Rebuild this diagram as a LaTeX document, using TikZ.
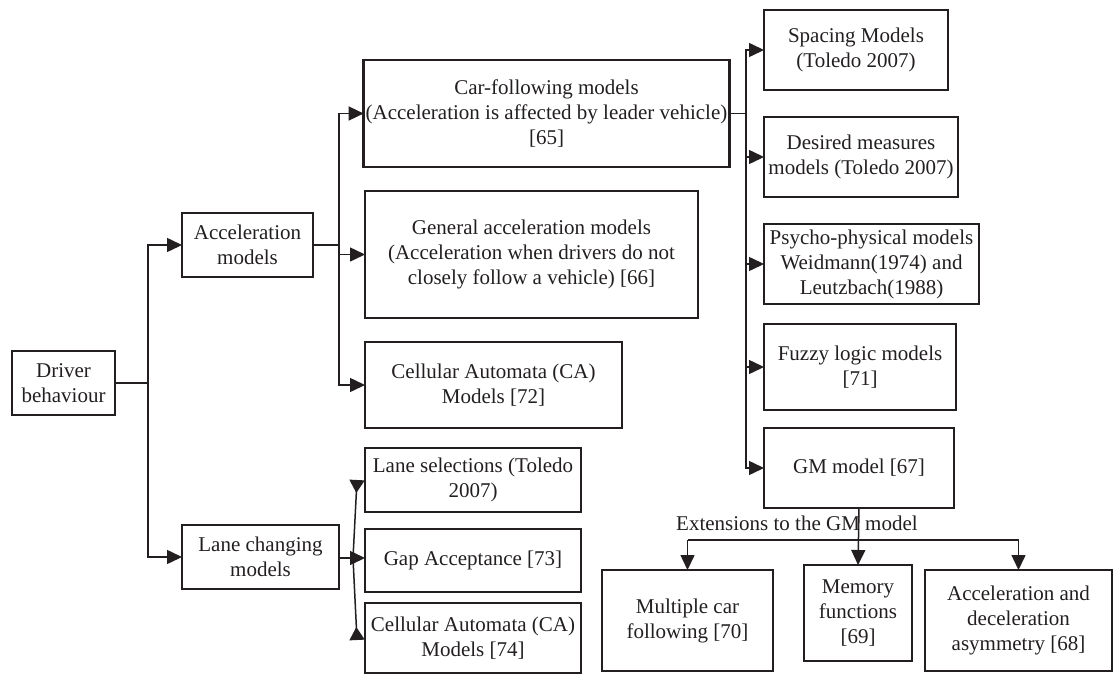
\documentclass[tikz,border=0pt]{standalone}
\usepackage{fontspec}
\setmainfont{Liberation Serif}
\usetikzlibrary{arrows.meta,calc}
\definecolor{ink}{HTML}{231F20}
\begin{document}
\begin{tikzpicture}[x=1pt,y=-1pt,
  box/.style={draw=ink, text=ink, line width=2.8pt, align=center, inner sep=2pt, outer sep=0pt,
    font=\fontsize{21}{25}\selectfont},
  conn/.style={draw=ink, line width=1.5pt},
  arr/.style={conn, -{Triangle[length=15pt,width=14pt]}},
  rarr/.style={conn, -{Triangle[reversed,length=13pt,width=15pt]}},
  lbl/.style={text=ink, inner sep=0pt, font=\fontsize{21}{25}\selectfont}]
\useasboundingbox (0,0) rectangle (1118,674);

% level 0/1
\node[box, minimum width=103pt, minimum height=64pt] (drv) at (63.5,383) {Driver\\behaviour};
\node[box, minimum width=131pt, minimum height=64pt] (acc) at (247.5,245) {Acceleration\\models};
\node[box, minimum width=157pt, minimum height=64pt] (lcm) at (260.5,557) {Lane changing\\models};

% acceleration branch
\node[box, minimum width=363pt, minimum height=107pt] (cf) at (546.5,113.5) {Car-following models\\(Acceleration is affected by leader vehicle)\\{[65]}};
\node[box, minimum width=333pt, minimum height=127pt] (ga) at (531.5,254.5) {General acceleration models\\(Acceleration when drivers do not\\closely follow a vehicle) [66]};
\node[box, minimum width=257pt, minimum height=86pt] (ca72) at (493.5,385) {Cellular Automata (CA)\\Models [72]};

% lane changing branch
\node[box, minimum width=216pt, minimum height=64pt] (ls) at (473,480) {Lane selections (Toledo\\2007)};
\node[box, minimum width=216pt, minimum height=63pt] (gap) at (473,560.5) {Gap Acceptance [73]};
\node[box, minimum width=216pt, minimum height=70pt] (ca74) at (473,638) {Cellular Automata (CA)\\Models [74]};

% car-following branch
\node[box, minimum width=184pt, minimum height=80pt] (sp) at (856,50) {Spacing Models\\(Toledo 2007)};
\node[box, minimum width=194pt, minimum height=80pt] (dm) at (861,157) {Desired measures\\models (Toledo 2007)};
\node[box, minimum width=215pt, minimum height=80pt] (pp) at (871.5,264) {Psycho-physical models\\Weidmann(1974) and\\Leutzbach(1988)};
\node[box, minimum width=192pt, minimum height=86pt] (fz) at (860,367) {Fuzzy logic models\\{[71]}};
\node[box, minimum width=190pt, minimum height=80pt] (gm) at (859,468) {GM model [67]};

% GM extensions
\node[box, minimum width=171pt, minimum height=101pt] (mc) at (687.5,620.5) {Multiple car\\following [70]};
\node[box, minimum width=108pt, minimum height=96pt] (mem) at (858,613) {Memory\\functions\\{[69]}};
\node[box, minimum width=187pt, minimum height=101pt] (aa) at (1018.5,620.5) {Acceleration and\\deceleration\\asymmetry [68]};
\node[lbl, anchor=base west] (ext) at (676,530) {Extensions to the GM model};

% connectors: driver behaviour
\coordinate (db) at (148,383);
\draw[conn] (drv.east) -- (db);
\draw[arr] (db) |- (acc.west);
\draw[arr] (db) |- (lcm.west);

% acceleration models
\coordinate (ab) at (339,245);
\draw[conn] (acc.east) -- (ab);
\draw[arr] (ab) |- (cf.west);
\draw[arr] (ab) |- (ga.west);
\draw[arr] (ab) |- (ca72.west);

% lane changing models
\coordinate (lb) at (353,558);
\draw[conn] (lcm.east |- lb) -- (lb);
\draw[arr] (lb) -- (lb -| gap.west);
\draw[rarr] (lb) -- ($(ls.west)+(-8,0)$);
\draw[rarr] (lb) -- ($(ca74.west)+(-8,2)$);

% car-following models
\coordinate (cb) at (746,113.5);
\draw[conn] (cf.east) -- (cb);
\draw[arr] (cb) |- (sp.west);
\draw[arr] (cb) |- (dm.west);
\draw[arr] (cb) |- (pp.west);
\draw[arr] (cb) |- (fz.west);
\draw[arr] (cb) |- (gm.west);

% GM extensions
\coordinate (gb) at (859,540);
\draw[arr] (gm.south) -- (mem.north);
\draw[conn] (gb) -- (gb -| mc.north) coordinate (gl);
\draw[conn] (gb) -- (gb -| aa.north) coordinate (gr);
\draw[arr] (gl) -- (mc.north);
\draw[arr] (gr) -- (aa.north);
\end{tikzpicture}
\end{document}
